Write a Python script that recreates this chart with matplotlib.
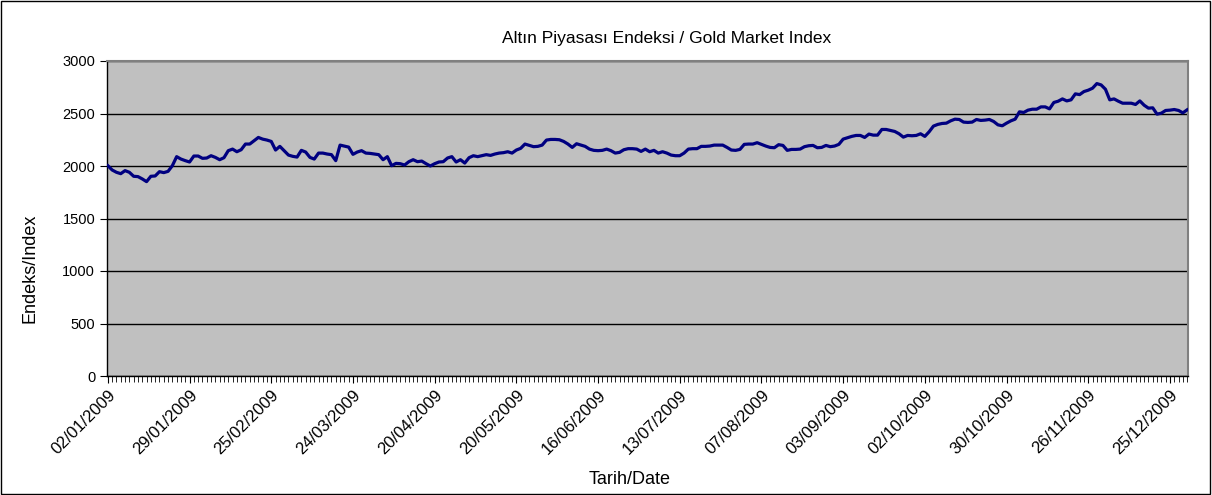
#!/usr/bin/env python3
"""Gold market index 2009, Excel style line chart."""

import matplotlib

matplotlib.use('Agg')
import matplotlib.pyplot as plt
from matplotlib.patches import Rectangle

plt.rcParams['font.family'] = ['Liberation Sans', 'DejaVu Sans']

TITLE = 'Altın Piyasası Endeksi / Gold Market Index'
X_LABEL = 'Tarih/Date'
Y_LABEL = 'Endeks/Index'

# one value per trading day of 2009
index_values = [
    2003, 1962, 1940, 1927, 1956, 1940, 1902, 1899, 1877, 1851,
    1902, 1905, 1946, 1937, 1949, 2003, 2089, 2066, 2051, 2038,
    2095, 2095, 2073, 2076, 2098, 2082, 2060, 2079, 2146, 2161,
    2136, 2155, 2209, 2209, 2240, 2272, 2256, 2247, 2234, 2152,
    2187, 2146,
    2104, 2092, 2085, 2149, 2133, 2082, 2066, 2123, 2123, 2114,
    2108, 2051, 2199, 2190, 2180, 2111, 2133, 2146, 2123, 2120,
    2114, 2108, 2060, 2089, 2003, 2025, 2022, 2009, 2041, 2060,
    2041, 2047, 2022, 2000, 2022, 2038, 2041, 2076, 2089, 2038,
    2060, 2028,
    2079, 2098, 2089, 2098, 2108, 2101, 2114, 2123, 2127, 2136,
    2123, 2152, 2168, 2209, 2196, 2184, 2187, 2199, 2247, 2253,
    2253, 2250, 2234, 2209, 2177, 2212, 2199, 2187, 2161, 2149,
    2146, 2149, 2161, 2146, 2123, 2130, 2155, 2165, 2165, 2161,
    2139, 2161,
    2136, 2149, 2123, 2136, 2123, 2104, 2098, 2098, 2123, 2161,
    2165, 2165, 2187, 2187, 2190, 2199, 2199, 2199, 2177, 2152,
    2149, 2158, 2206, 2209, 2209, 2222, 2206, 2190, 2177, 2174,
    2203, 2196, 2149, 2158, 2158, 2161, 2184, 2193, 2196, 2174,
    2177, 2196,
    2184, 2190, 2206, 2256, 2269, 2282, 2291, 2291, 2272, 2304,
    2294, 2294, 2348, 2348, 2339, 2329, 2307, 2275, 2291, 2288,
    2291, 2307, 2282, 2326, 2380, 2396, 2405, 2408, 2430, 2446,
    2443, 2418, 2415, 2418, 2443, 2434, 2437, 2443, 2424, 2392,
    2383, 2408,
    2430, 2446, 2516, 2510, 2532, 2541, 2541, 2563, 2563, 2544,
    2605, 2617, 2639, 2620, 2630, 2687, 2680, 2709, 2722, 2741,
    2785, 2772, 2731, 2630, 2639, 2617, 2598, 2598, 2598, 2586,
    2620, 2579, 2551, 2554, 2494, 2503, 2529, 2532, 2538, 2529,
    2506, 2535,
]

# every 19th trading day gets a label
date_labels = [
    '02/01/2009', '29/01/2009', '25/02/2009', '24/03/2009', '20/04/2009',
    '20/05/2009', '16/06/2009', '13/07/2009', '07/08/2009', '03/09/2009',
    '02/10/2009', '30/10/2009', '26/11/2009', '25/12/2009',
]
LABEL_STEP = 19
y_ticks = [0, 500, 1000, 1500, 2000, 2500, 3000]


def main() -> None:
    W, H = 1212, 495
    fig = plt.figure(figsize=(W / 100, H / 100), dpi=100)
    fig.patches.append(Rectangle((0.001, 0.002), 0.997, 0.995, transform=fig.transFigure,
                                 fill=False, edgecolor='black', linewidth=1.0))
    ax = fig.add_axes([107 / W, 1 - 376 / H, (1188 - 107) / W, (376 - 61) / H])
    ax.set_facecolor('#C0C0C0')

    x = list(range(len(index_values)))
    ax.plot(x, index_values, color='#000080', linewidth=2.3, zorder=3)

    ax.set_xlim(-0.2, len(index_values) - 0.8)
    ax.set_ylim(0, 3000)
    ax.set_yticks(y_ticks)
    ax.set_yticklabels([str(v) for v in y_ticks], fontsize=10.5)
    ax.yaxis.grid(True, color='black', linewidth=1.0)
    ax.set_axisbelow(True)

    ax.set_xticks([i * LABEL_STEP for i in range(len(date_labels))])
    ax.set_xticklabels(date_labels, rotation=45, ha='right', rotation_mode='anchor', fontsize=12)
    ax.set_xticks(x, minor=True)
    ax.tick_params(axis='x', which='major', length=5, width=0.8, pad=3)
    ax.tick_params(axis='x', which='minor', length=4, width=0.6)
    ax.tick_params(axis='y', length=5, width=0.8)

    for side in ('top', 'right'):
        ax.spines[side].set_color('#808080')
        ax.spines[side].set_linewidth(1.5)
    for side in ('left', 'bottom'):
        ax.spines[side].set_color('black')
        ax.spines[side].set_linewidth(1.0)

    fig.text(667 / W, 1 - 38 / H, TITLE, fontsize=12.5, ha='center', va='center')
    fig.text(630 / W, 1 - 480 / H, X_LABEL, fontsize=13, ha='center', va='center')
    fig.text(30 / W, 1 - 268 / H, Y_LABEL, fontsize=13, ha='center', va='center', rotation=90)

    fig.savefig('out.png', dpi=100)


if __name__ == '__main__':
    main()
